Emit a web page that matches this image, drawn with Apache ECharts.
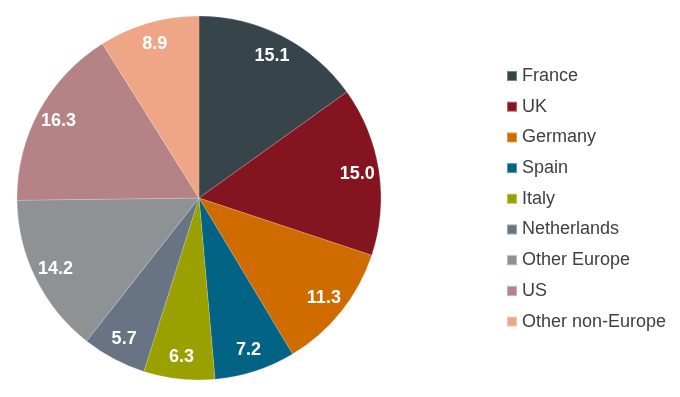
<!DOCTYPE html>
<html>
<head>
<meta charset="utf-8">
<script src="https://cdn.jsdelivr.net/npm/echarts@6/dist/echarts.min.js"></script>
<style>
  html, body { margin: 0; padding: 0; background: #fff; }
  #main { width: 680px; height: 397px; }
</style>
</head>
<body>
<div id="main"></div>
<script>
// regions, clockwise from 12 o'clock
var regionNames = ["France", "UK", "Germany", "Spain", "Italy", "Netherlands", "Other Europe", "US", "Other non-Europe"];
var regionShares = [15.1, 15.0, 11.3, 7.2, 6.3, 5.7, 14.2, 16.3, 8.9];
var regionColors = ["#37444a", "#84141f", "#d06b00", "#036384", "#99a000", "#687483", "#8f9295", "#b58286", "#eea686"];

var pieData = regionNames.map(function (n, i) {
  return { name: n, value: regionShares[i] };
});

var chart = echarts.init(document.getElementById("main"));

var option = {
  animation: false,
  color: regionColors,
  legend: {
    orient: "vertical",
    left: 506,
    top: 67,
    padding: 0,
    itemWidth: 10,
    itemHeight: 10,
    itemGap: 12.7,
    icon: "rect",
    data: regionNames,
    textStyle: {
      color: "#404040",
      fontSize: 18,
      lineHeight: 18,
      fontFamily: "Liberation Sans, Arial, sans-serif"
    }
  },
  series: [
    {
      name: "share",
      type: "pie",
      center: [199, 198],
      radius: 182,
      startAngle: 90,
      clockwise: true,
      data: pieData,
      itemStyle: { borderColor: "rgba(255,255,255,0.35)", borderWidth: 0.5 },
      label: { show: false },
      labelLine: { show: false },
      emphasis: { disabled: true }
    },
    {
      // transparent ring, only here to place labels near the rim
      name: "labels",
      type: "pie",
      center: [199, 198],
      radius: [132, 182],
      startAngle: 90,
      clockwise: true,
      silent: true,
      data: pieData,
      itemStyle: { color: "rgba(0,0,0,0)" },
      label: {
        show: true,
        position: "inside",
        color: "#fff",
        fontSize: 18,
        fontWeight: "bold",
        fontFamily: "Liberation Sans, Arial, sans-serif",
        formatter: function (p) { return p.value.toFixed(1); }
      },
      labelLine: { show: false },
      emphasis: { disabled: true }
    }
  ]
};

chart.setOption(option);
window.addEventListener("resize", function () {
  chart.resize();
});
</script>
</body>
</html>
